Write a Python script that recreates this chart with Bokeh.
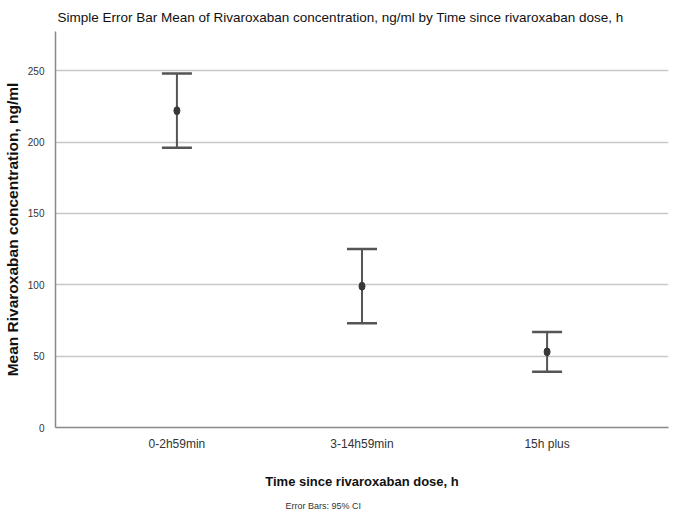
from bokeh.plotting import figure
from bokeh.models import FactorRange, Range1d, Whisker, TeeHead, ColumnDataSource, Title, FixedTicker
from bokeh.embed import file_html
from bokeh.resources import INLINE

# Rivaroxaban concentration (ng/ml) by time since dose: mean with 95% CI
groups = ["0-2h59min", "3-14h59min", "15h plus"]
means = [222, 99, 53]
ci_lower = [196, 73, 39]
ci_upper = [248, 125, 67]
y_ticks = [0, 50, 100, 150, 200, 250]

NARROW = "Liberation Sans Narrow, Arial Narrow, Liberation Sans, sans-serif"
WIDE = "Liberation Sans, Arial, sans-serif"

src = ColumnDataSource(dict(g=groups, m=means, lo=ci_lower, hi=ci_upper))

p = figure(
    width=675, height=522,
    x_range=FactorRange(*groups, range_padding=0.104, range_padding_units="percent"),
    y_range=Range1d(0, 277.5),
    output_backend="svg", toolbar_location=None,
    min_border_left=55, min_border_right=7, min_border_top=28, min_border_bottom=95,
)
p.background_fill_color = "white"
p.border_fill_color = "white"
p.outline_line_color = None

p.title.text = "Simple Error Bar Mean of Rivaroxaban concentration, ng/ml by Time since rivaroxaban dose, h"
p.title.text_font = NARROW
p.title.text_font_size = "13.5px"
p.title.text_font_style = "normal"
p.title.text_color = "#111111"
p.title.align = "left"
p.title.offset = 2
p.title.standoff = 14

# axes
p.xaxis.axis_label = "Time since rivaroxaban dose, h"
p.xaxis.axis_label_text_font = NARROW
p.xaxis.axis_label_text_font_size = "13px"
p.xaxis.axis_label_text_font_style = "bold"
p.xaxis.axis_label_text_color = "#111111"
p.xaxis.axis_label_standoff = 20
p.xaxis.major_label_text_font = NARROW
p.xaxis.major_label_text_font_size = "12px"
p.xaxis.major_label_text_color = "#333333"
p.xaxis.major_label_standoff = 3

p.yaxis.axis_label = "Mean Rivaroxaban concentration, ng/ml"
p.yaxis.axis_label_text_font = WIDE
p.yaxis.axis_label_text_font_size = "15.5px"
p.yaxis.axis_label_text_font_style = "bold"
p.yaxis.axis_label_text_color = "#111111"
p.yaxis.axis_label_standoff = 4
p.yaxis.major_label_text_font = NARROW
p.yaxis.major_label_text_font_size = "10px"
p.yaxis.major_label_text_color = "#333333"
p.yaxis.major_label_standoff = 5
p.yaxis.ticker = FixedTicker(ticks=y_ticks)

for ax in (p.xaxis, p.yaxis):
    ax.axis_line_color = "#888888"
    ax.axis_line_width = 1.5
    ax.major_tick_line_color = None
    ax.minor_tick_line_color = None

p.xgrid.grid_line_color = None
p.ygrid.grid_line_color = "#c8c8c8"
p.ygrid.grid_line_width = 1.5

# confidence interval whiskers and group means
w = Whisker(source=src, base="g", lower="lo", upper="hi",
            line_color="#555555", line_width=2,
            upper_head=TeeHead(size=30, line_color="#555555", line_width=2.5),
            lower_head=TeeHead(size=30, line_color="#555555", line_width=2.5))
p.add_layout(w)
p.ellipse(x="g", y="m", width=6, height=8, width_units="screen", height_units="screen",
          source=src, fill_color="#383838", line_color="#383838")

footer = Title(text="Error Bars: 95% CI", text_font=NARROW, text_font_size="9px",
               text_font_style="normal", text_color="#333333", align="left", offset=230,
               standoff=14)
p.add_layout(footer, "below")

open("out.html", "w").write(file_html(p, INLINE))
